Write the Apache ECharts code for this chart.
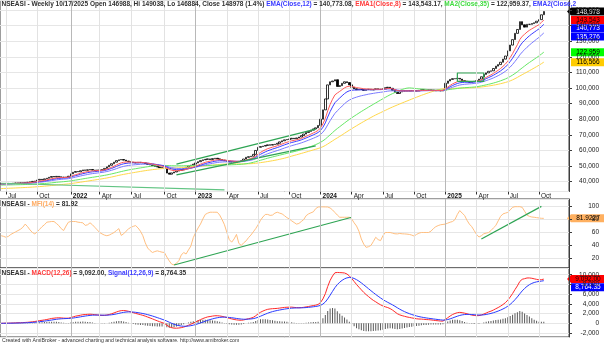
<!DOCTYPE html>
<html><head><meta charset="utf-8">
<script src="https://cdn.jsdelivr.net/npm/echarts@6/dist/echarts.min.js"></script>
<style>html,body{margin:0;padding:0;background:#fff}#c{width:604px;height:347px}</style>
</head><body><div id="c"></div>
<script>
// Weekly NSEASI closes, first bar week ending 2021-06-18
const startDate = '2021-06-18';
const padWeeks = 10;
const closes = [
  38600,38800, 38900,38700,38900,39000,39100, 39200,39000,39300,39500, 39600,39900,40200,40400,
  41000,41500,41200,41800,42200, 42800,43300,43000,43400, 43100,42900,42700,43000,43500,
  45000,46000,46500,46300, 47000,47500,47300,47600, 47800,47400,47200,47500, 47400,47800,48500,49500,50500,
  51500,52500,53500,54000, 54200,53800,53200,52800, 52500,52300,52000,52400,52200, 52000,51600,51000,50700,
  50300,49800,49400,49000,48800, 48400,45500,44800,45600, 46200,46800,47300,47600, 48300,49200,50000,50600,51200,
  52000,52800,53500,54000, 54300,54600,54200,54800, 55000,54600,54200,53800,53400, 53000,52600,52800,52500,
  52800,53000,53400,54500, 55600,56000,56300,57500,60000, 62000,62500,62800,63200, 63600,63400,63800,64000,
  64600,65500,66200,66800,67000, 67400,67800,67500,68000, 68600,69500,70500,71500, 72200,73000,73800,74500,76000,
  80000,86000,93000,102000, 104000,104500,105300,101000, 101500,103000,104000,103500,102000, 100500,99500,98900,99200,
  99000,98500,99000,99200,98800, 99000,99500,99000,99200, 99500,100200,100500,99800, 98500,97200,96500,97500,98000,
  98200,98000,98400,98100, 98300,98000,98500,98900, 98700,98500,98900,98600,98300, 98200,98500,98100,98700,
  103000,104500,105500,106000,106000, 106200,105700,104700,104300, 104000,103700,103900,104300, 104700,105700,107200,108700,
  109700,110700,111000,112500,114000, 115000,116500,118500,120500, 123800,127500,131000,135000,
  137500,142500,140500,139000,140800, 140800,141300,141800,142800, 143800,146900,148978
];
const lastBar = { open: 146988, high: 149038, low: 146884, close: 148978 };

// MFI(14), one value per week
const mfi = [
  55,54,52.6,54,57,59,61,63,65,68, 73,69,64,60,57.8,61,65,69,72,76, 76.5,77,77,74,70.7,66,63,70,76,77,
  77,77,76,75.5,75,71,72,75,72,68, 64,60,57.8,56,55,56,58,60,63,66, 55.5,58,62,65.5,68,69.5,70.7,67,62,55,
  44,36,32,29,30.5,31.6,30.5,29.5,29,22, 16,11,9.8,12.5,16.4,25,29,26.7,33,39, 52,60,67,73,81,88,90,91.4,91.4,91.4,
  91.4,87,80,72,60,49,45,50,57,43, 40,44,47,52,56,61,66,72,79,84, 88,88,86.5,87,90,91.4,90,88.8,86,83,
  81,78,75.5,73,74,77,80,86,88.8,90.5, 92,97,99.5,99.7,99.7,99.6,99.5,98,95,91, 87,83.6,83.6,83.6,83.6,83.6,81,75,70,62,
  50,42,37,38,40,46,52.6,49,47.4,55, 60,60,60,59,58,57.8,58.5,58,57.8,57.5, 57,56,54.5,57,59,60,60,60,60,62,
  66,69,70.7,72,72.5,73,74.5,76,77,80, 88,94,90,86.5,79,73,69,63,57,53, 55,58,59,60,63,67,70.7,78,85,88.8,
  90,91.2,95,99,100,100,100,99,93,87, 85,84,83.6,83,82.5,82,81.9227
];

// Hand-drawn trendlines: [barIndex, value] pairs
const priceTrendLines = [
  [[0, 39000], [93, 34700]],
  [[73, 51200], [131, 73700]],
  [[73, 44300], [131, 62900]],
  [[190, 104200], [190, 109600], [201, 109600], [201, 104200], [190, 104200]]
];
const mfiTrendLines = [
  [[72, 9.7], [146, 83.6]],
  [[200, 50], [225, 100.5]]
];
// average level assumed for the weeks before the first bar
const priorLevel = { ma35: 37800, ma50: 35500 };

const monthNames = ['Jan','Feb','Mar','Apr','May','Jun','Jul','Aug','Sep','Oct','Nov','Dec'];

// ---- derived values ----
const dates = [];
(function(){ let t = Date.parse(startDate + 'T00:00:00Z');
  for (let i = 0; i < closes.length + padWeeks; i++) { dates.push(new Date(t).toISOString().slice(0,10)); t += 7*864e5; } })();
const monthOf = d => +d.slice(5,7) - 1;
const quarterStart = dates.map((d,i) => { const m = monthOf(d); return m % 3 === 0 && (i === 0 || monthOf(dates[i-1]) !== m); });

function ema(src, n) { const a = 2/(n+1); const out = []; let e = src[0];
  for (let i = 0; i < src.length; i++) { if (i > 0) e += a*(src[i]-e); out.push(e); } return out; }
function sma(src, n, lead) { const out = []; let s = 0;
  for (let i = 0; i < src.length; i++) { s += src[i]; if (i >= n) s -= src[i-n];
    const k = Math.min(i+1, n); out.push((s + (n-k)*lead)/n); } return out; }

const ema8 = ema(closes, 8), ema12 = ema(closes, 12), ema20 = ema(closes, 20);
const ma35 = sma(closes, 35, priorLevel.ma35), ma50 = sma(closes, 50, priorLevel.ma50);
const ema26 = ema(closes, 26);
const macd = closes.map((c,i) => ema12[i] - ema26[i]);
const signal = ema(macd, 9);
const hist = macd.map((v,i) => v - signal[i]);

const candles = closes.map((c,i) => {
  if (i === closes.length-1) return [lastBar.open, lastBar.close, lastBar.low, lastBar.high];
  const o = i === 0 ? c : closes[i-1];
  return [o, c, Math.min(o,c), Math.max(o,c)];
});

const N = closes.length;
const last = a => a[a.length-1];
const fmt0 = v => Math.round(v).toLocaleString('en-US');
const fmt2 = v => v.toLocaleString('en-US', {minimumFractionDigits:2, maximumFractionDigits:2});
const lastDate = dates[N-1];
const dateUS = (+lastDate.slice(5,7)) + '/' + lastDate.slice(8,10) + '/' + lastDate.slice(0,4);
const pct = ((lastBar.close / closes[N-2] - 1) * 100).toFixed(1);

const FONT = 'Arial, "Liberation Sans", sans-serif';
const FS = 6.5;
const rs = c => ({ color: c, fontSize: FS, fontFamily: FONT });

const pair = line => line.map(p => [dates[p[0]], p[1]]);

function vLines(){
  const d = [];
  dates.forEach((dt,i) => { if (quarterStart[i]) d.push({ xAxis: dt, lineStyle: { color: monthOf(dt) === 0 ? '#b8b8b8' : '#e2e2e2', width: 1, type: 'solid' } }); });
  return { silent: true, symbol: ['none','none'], label: { show: false }, animation: false, data: d };
}
const lineS = (name, data, color, xi, yi, extra) => Object.assign({
  name, type: 'line', data, xAxisIndex: xi, yAxisIndex: yi, showSymbol: false, symbol: 'none',
  lineStyle: { color, width: 1 }, itemStyle: { color }, silent: true, animation: false
}, extra || {});

const grids = [
  { left: 0, right: 35, top: 0.5, height: 191 },
  { left: 0, right: 35, top: 199, height: 69 },
  { left: 0, right: 35, top: 268, height: 69 }
];
grids.forEach(g => { g.show = true; g.borderColor = '#3c3c3c'; g.borderWidth = 1; g.containLabel = false; });

const xAxes = [0,1,2].map(gi => ({
  type: 'category', gridIndex: gi, data: dates, boundaryGap: true,
  axisLine: { show: false },
  axisTick: { show: gi === 0, alignWithLabel: true, length: 3, interval: (i) => quarterStart[i], lineStyle: { color: '#333' } },
  axisLabel: gi === 0 ? {
    show: true, interval: (i) => quarterStart[i], align: 'left', margin: 1.5, padding: [0,0,0,2],
    formatter: (v) => { const m = monthOf(v); return m === 0 ? '{y|' + v.slice(0,4) + '}' : '{m|' + monthNames[m] + '}'; },
    rich: { y: Object.assign(rs('#111'), { fontWeight: 'bold' }), m: rs('#222') }
  } : { show: false },
  splitLine: { show: false }
}));

const yCommon = (gi, min, max, step) => ({
  type: 'value', gridIndex: gi, position: 'right', min, max, minInterval: step, maxInterval: step, splitNumber: 6,
  axisLine: { show: true, lineStyle: { color: '#3c3c3c' } },
  axisTick: { show: true, length: 3, lineStyle: { color: '#3c3c3c' } },
  axisLabel: { show: true, fontSize: FS, fontFamily: FONT, color: '#222', align: 'right', margin: 30,
    showMinLabel: false, showMaxLabel: false, formatter: v => v.toLocaleString('en-US') },
  splitLine: { show: true, lineStyle: { color: '#e6e6e6', width: 1 } }
});
const yAxes = [
  yCommon(0, 33706, 156058, 10000),
  yCommon(1, 5, 111.9, 20),
  yCommon(2, -2819, 11380, 2000)
];

const series = [
  lineS('MA50', ma50, '#ffd84a', 0, 0, { markLine: vLines() }),
  lineS('MA35', ma35, '#66e866', 0, 0),
  lineS('EMA20', ema20, '#7a7aff', 0, 0),
  lineS('EMA12', ema12, '#3d3dff', 0, 0),
  lineS('EMA8', ema8, '#ff5a5a', 0, 0),
];
priceTrendLines.forEach((l,k) => series.push(lineS('tl'+k, pair(l), k === 0 ? '#62c483' : '#2ea453', 0, 0, { lineStyle: { color: k === 0 ? '#62c483' : '#2ea453', width: 1.2 } })));
series.push({
  name: 'NSEASI', type: 'candlestick', xAxisIndex: 0, yAxisIndex: 0, data: candles, barWidth: 2,
  itemStyle: { color: '#ffffff', color0: '#000000', borderColor: '#000000', borderColor0: '#000000', borderWidth: 0.8 },
  silent: true, animation: false
});
series.push(lineS('MFI', mfi, '#ffbf80', 1, 1, { markLine: vLines() }));
mfiTrendLines.forEach((l,k) => series.push(lineS('mtl'+k, pair(l), '#2ea453', 1, 1, { lineStyle: { color: '#2ea453', width: 1.2 } })));
series.push({ name: 'Hist', type: 'bar', xAxisIndex: 2, yAxisIndex: 2, data: hist, barWidth: 1,
  itemStyle: { color: '#5a5a5a' }, silent: true, animation: false, markLine: vLines() });
series.push(lineS('MACD', macd, '#ff2a2a', 2, 2));
series.push(lineS('Signal', signal, '#2a3cff', 2, 2));

const titleTop = '{k|NSEASI - Weekly ' + dateUS + ' Open ' + lastBar.open + ', Hi ' + lastBar.high + ', Lo ' + lastBar.low +
  ', Close ' + lastBar.close + ' (' + pct + '%) }{b|EMA(Close,12)}{k| = ' + fmt2(last(ema12)) + ', }{r|EMA1(Close,8)}{k| = ' +
  fmt2(last(ema8)) + ', }{g|MA2(Close,35)}{k| = ' + fmt2(last(ma35)) + ', }{b|EMA2(Close,2}';
const titleMfi = '{k|NSEASI - }{o|MFI(14)}{k| = ' + last(mfi).toFixed(2) + '}';
const titleMacd = '{k|NSEASI - }{r|MACD(12,26)}{k| = ' + fmt2(last(macd)) + ', }{b|Signal(12,26,9)}{k| = ' + fmt2(last(signal)) + '}';
const richT = { k: rs('#303030'), b: rs('#3a3aff'), r: rs('#ff3a3a'), g: rs('#3fdc3f'), o: rs('#ffaa60') };

const chart = echarts.init(document.getElementById('c'), null, { renderer: 'canvas' });
chart.setOption({
  backgroundColor: '#ffffff', animation: false,
  grid: grids, xAxis: xAxes, yAxis: yAxes, series,
  title: [
    { text: titleTop, left: 1.5, top: 1, padding: 0, textStyle: { rich: richT } },
    { text: titleMfi, left: 1.5, top: 200.5, padding: 0, textStyle: { rich: richT } },
    { text: titleMacd, left: 1.5, top: 269.5, padding: 0, textStyle: { rich: richT } }
  ]
});

// value tags on the right scale
function tag(y, txt, fill, color, arrow) {
  const x0 = 571, x1 = 604, h = 4;
  const pts = arrow ? [[567,y],[x0,y-h],[x1,y-h],[x1,y+h],[x0,y+h]] : [[x0,y-h],[x1,y-h],[x1,y+h],[x0,y+h]];
  return { type: 'group', z: 100, children: [
    { type: 'polygon', shape: { points: pts }, style: { fill } },
    { type: 'text', style: { text: txt, x: 588, y: y + 0.3, fill: color, fontSize: FS, fontFamily: FONT, align: 'center', verticalAlign: 'middle' } }
  ]};
}
function stack(items, axis) {
  items.forEach(it => it.y = chart.convertToPixel({ yAxisIndex: axis }, it.v));
  items.sort((a,b) => a.y - b.y);
  for (let i = 1; i < items.length; i++) if (items[i].y < items[i-1].y + 8.2) items[i].y = items[i-1].y + 8.2;
  return items.map(it => tag(it.y, it.t, it.f, it.c, it.a));
}
const gfx = [].concat(
  stack([
    { v: lastBar.close, t: fmt0(lastBar.close), f: '#000000', c: '#ffffff', a: true },
    { v: last(ema8), t: fmt0(last(ema8)), f: '#ff0000', c: '#1a0000', a: false },
    { v: last(ema12), t: fmt0(last(ema12)), f: '#0000ff', c: '#ffffff', a: false },
    { v: last(ema20), t: fmt0(last(ema20)), f: '#0000ff', c: '#ffffff', a: false },
    { v: last(ma35), t: fmt0(last(ma35)), f: '#00ff00', c: '#000000', a: false },
    { v: last(ma50), t: fmt0(last(ma50)), f: '#ffcc00', c: '#000000', a: false }
  ], 0),
  stack([{ v: last(mfi), t: last(mfi).toFixed(4), f: '#ffb060', c: '#000000', a: true }], 1),
  stack([
    { v: last(macd), t: fmt2(last(macd)), f: '#ff0000', c: '#1a0000', a: true },
    { v: last(signal), t: fmt2(last(signal)), f: '#0000ff', c: '#ffffff', a: false }
  ], 2),
  [{ type: 'text', left: 2, top: 338.5, style: { text: 'Created with AmiBroker - advanced charting and technical analysis software. http://www.amibroker.com', fill: '#333', fontSize: 5.2, fontFamily: FONT } }]
);
chart.setOption({ graphic: gfx });
</script></body></html>
